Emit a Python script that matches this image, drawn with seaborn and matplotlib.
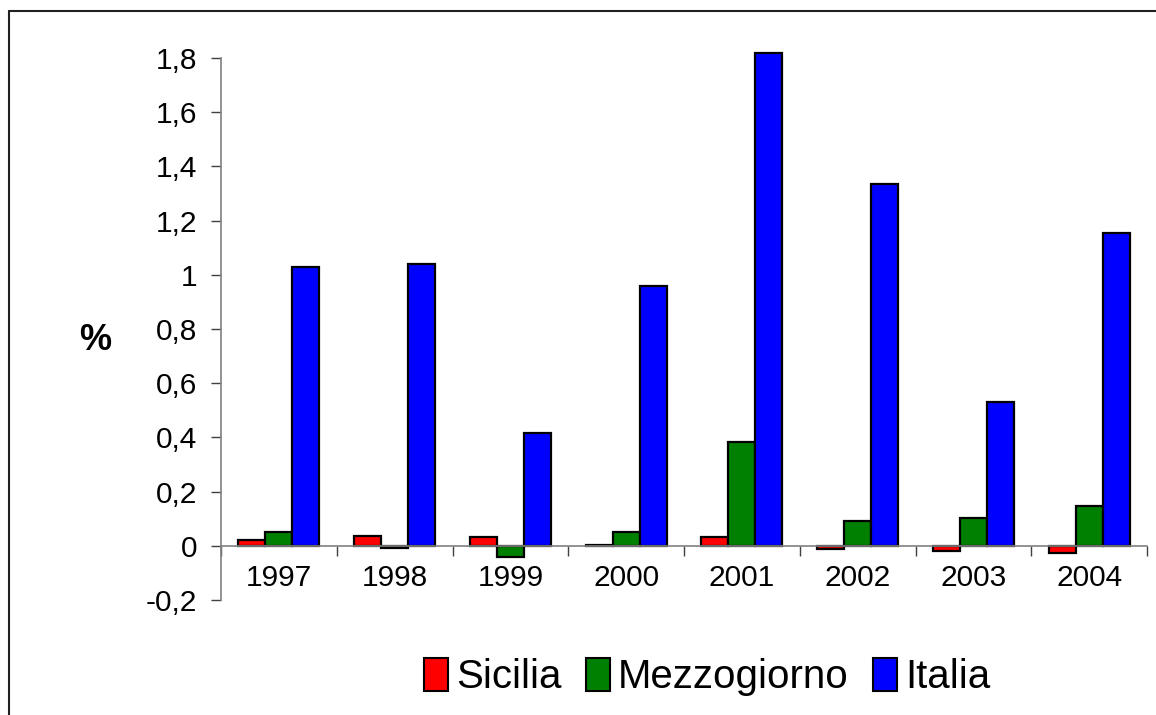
import pandas as pd
import seaborn as sns
import matplotlib.pyplot as plt
from matplotlib.lines import Line2D

years = ['1997', '1998', '1999', '2000', '2001', '2002', '2003', '2004']
sicilia = [0.022, 0.037, 0.033, 0.002, 0.033, -0.010, -0.018, -0.026]
mezzogiorno = [0.052, -0.007, -0.040, 0.052, 0.384, 0.092, 0.103, 0.148]
italia = [1.030, 1.040, 0.417, 0.958, 1.820, 1.336, 0.530, 1.155]
series = ['Sicilia', 'Mezzogiorno', 'Italia']
colors = ['#FF0000', '#008000', '#0000FF']
yticks = [-0.2, 0, 0.2, 0.4, 0.6, 0.8, 1, 1.2, 1.4, 1.6, 1.8]
ytick_labels = ['-0,2', '0', '0,2', '0,4', '0,6', '0,8', '1', '1,2', '1,4', '1,6', '1,8']

df = pd.DataFrame({
    'anno': years * 3,
    'serie': [s for s in series for _ in years],
    'val': sicilia + mezzogiorno + italia,
})

sns.set_style('white')
plt.rcParams['font.family'] = ['Liberation Sans', 'DejaVu Sans']
plt.rcParams['text.color'] = 'black'
plt.rcParams['xtick.labelcolor'] = 'black'
plt.rcParams['ytick.labelcolor'] = 'black'

fig = plt.figure(figsize=(11.56, 7.15), dpi=100)
ax = fig.add_axes([221 / 1156, 1 - 600 / 715, (1147 - 221) / 1156, (600 - 52.6) / 715])

sns.barplot(data=df, x='anno', y='val', hue='serie', palette=colors,
            width=0.7, gap=0, edgecolor='black', linewidth=1.6,
            saturation=1, legend=False, ax=ax)
for p in ax.patches:
    p.set_clip_on(False)

ax.set_xlim(-0.5, len(years) - 0.5)
ax.set_ylim(-0.2, 1.82)
ax.set_xlabel('')
ax.set_ylabel('')

# y axis
ax.set_yticks(yticks, ytick_labels)
ax.spines['left'].set_bounds(-0.2, 1.8)
ax.spines['left'].set_color('#808080')
ax.spines['left'].set_linewidth(1.2)
ax.tick_params(axis='y', direction='out', length=7, width=1, color='#404040',
               pad=10, labelsize=21.5, left=True, labelcolor='black')

# x axis at zero, ticks between categories
ax.spines['bottom'].set_position(('data', 0))
ax.spines['bottom'].set_color('#808080')
ax.spines['bottom'].set_linewidth(1.2)
ax.set_xticks([i - 0.5 for i in range(len(years) + 1)], [''] * (len(years) + 1))
ax.set_xticks(range(len(years)), years, minor=True)
ax.tick_params(axis='x', which='major', direction='out', length=7, width=1,
               color='#404040', bottom=True)
ax.tick_params(axis='x', which='minor', length=0, pad=13, labelsize=21.5,
               labelcolor='black')
for s in ['top', 'right']:
    ax.spines[s].set_visible(False)

fig.text(95 / 1156, 1 - 340 / 715, '%', fontsize=26, fontweight='bold',
         ha='center', va='center', color='black')

handles = [plt.Rectangle((0, 0), 1, 1, facecolor=c, edgecolor='black', linewidth=1.5)
           for c in colors]
fig.legend(handles, series, loc='center', bbox_to_anchor=(707 / 1156, 1 - 677 / 715),
           ncol=3, frameon=False, fontsize=29, handlelength=0.6, handleheight=0.9,
           handletextpad=0.2, columnspacing=0.6, borderaxespad=0, labelcolor='black')

# outer chart border (top and left edges visible)
fig.add_artist(Line2D([9 / 1156, 1], [1 - 11 / 715, 1 - 11 / 715],
                      transform=fig.transFigure, color='#202020', linewidth=1.5))
fig.add_artist(Line2D([9 / 1156, 9 / 1156], [0, 1 - 11 / 715],
                      transform=fig.transFigure, color='#202020', linewidth=1.5))

fig.savefig('out.png', dpi=100)
